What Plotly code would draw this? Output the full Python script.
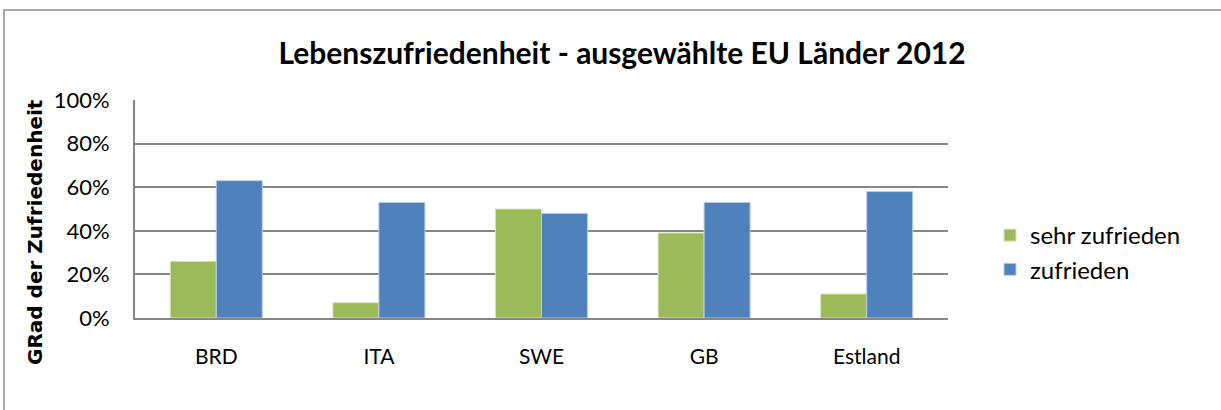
import plotly.graph_objects as go

categories = ["BRD", "ITA", "SWE", "GB", "Estland"]
sehr_zufrieden = [0.26, 0.07, 0.50, 0.39, 0.11]
zufrieden = [0.63, 0.53, 0.48, 0.53, 0.58]
y_ticks = [0, 0.2, 0.4, 0.6, 0.8, 1.0]
y_ticktext = ["0%", "20%", "40%", "60%", "80%", "100%"]

FONT = "Lato, Carlito, Calibri, sans-serif"
W, H = 1221, 410
L, R, T, B = 135, 948, 100, 318

fig = go.Figure()
fig.add_trace(go.Bar(name="sehr zufrieden", x=categories, y=sehr_zufrieden,
                     marker=dict(color="#9BBB59", line=dict(color="#D7E4BD", width=1))))
fig.add_trace(go.Bar(name="zufrieden", x=categories, y=zufrieden,
                     marker=dict(color="#4F81BD", line=dict(color="#B9CDE5", width=1))))

pw, ph = R - L, B - T
def px(x):
    return (x - L) / pw
def py(y):
    return (B - y) / ph

fig.update_layout(
    width=W, height=H,
    margin=dict(l=L, r=W - R, t=T, b=H - B, autoexpand=False),
    paper_bgcolor="white", plot_bgcolor="white",
    barmode="group", bargap=0.434, bargroupgap=0,
    font=dict(family=FONT, size=18, color="#000000"),
    title=dict(text="<b>Lebenszufriedenheit - ausgewählte EU Länder 2012</b>",
               x=622 / W, xref="container", xanchor="center",
               y=1 - 53 / H, yanchor="middle", yref="container",
               font=dict(family=FONT, size=30, color="#000000")),
    showlegend=True,
    legend=dict(x=px(990), y=py(213), xanchor="left", yanchor="top",
                font=dict(family=FONT, size=24, color="#000000"),
                bgcolor="rgba(0,0,0,0)", tracegroupgap=0, itemwidth=30),
    xaxis=dict(showline=True, linecolor="#868686", linewidth=2,
               ticks="outside", ticklen=19, tickcolor="rgba(0,0,0,0)",
               showgrid=False, tickfont=dict(family=FONT, size=21),
               mirror=False),
    yaxis=dict(range=[0, 1.0], tickvals=y_ticks, ticktext=y_ticktext,
               showline=True, linecolor="#868686", linewidth=2,
               showgrid=True, gridcolor="#868686", gridwidth=1.5,
               ticks="outside", ticklen=19, tickcolor="rgba(0,0,0,0)",
               tickfont=dict(family=FONT, size=22), zeroline=False),
    shapes=[dict(type="rect", xref="paper", yref="paper",
                 x0=px(4), x1=px(1230), y0=py(420), y1=py(10),
                 line=dict(color="#8C8C8C", width=1.5), fillcolor="rgba(0,0,0,0)",
                 layer="below")],
    annotations=[dict(text="<b>GRad der Zufriedenheit</b>", textangle=-90,
                      xref="paper", yref="paper", x=px(35), y=py(232),
                      xanchor="center", yanchor="middle", showarrow=False,
                      font=dict(family="DejaVu Sans, sans-serif", size=20, color="#000000"))],
)

fig.write_html("out.html", config={"displayModeBar": False},
               post_script="document.body.style.margin='0';document.body.style.overflow='hidden';")
